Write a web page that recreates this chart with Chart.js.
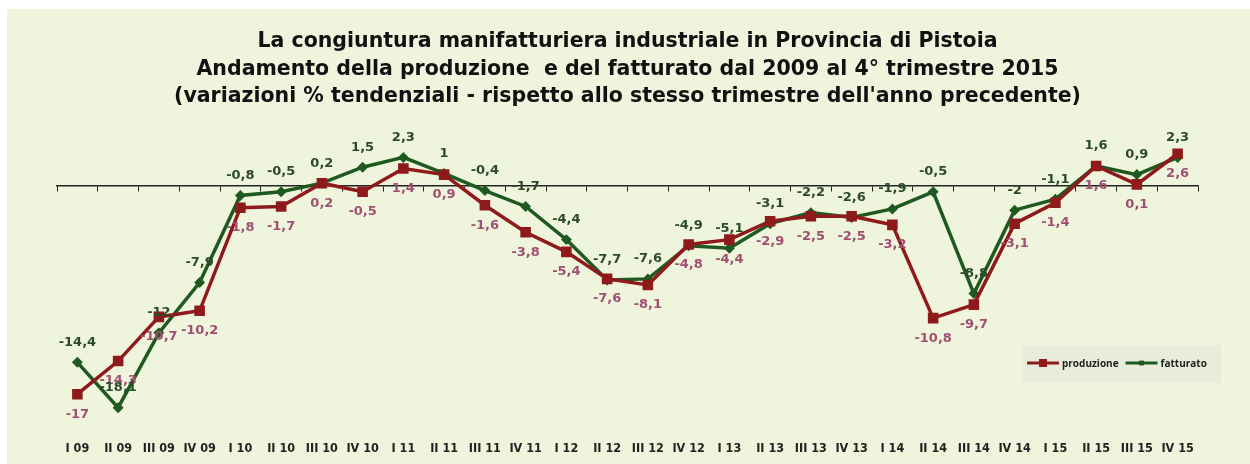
<!DOCTYPE html>
<html lang="it">
<head>
  <meta charset="UTF-8">
  <title>Congiuntura manifatturiera Pistoia</title>
  <script src="https://cdn.jsdelivr.net/npm/chart.js"></script>
  <style>
    html, body { margin: 0; padding: 0; background: #fff; }
    #box {
      position: absolute; left: 7px; top: 9px;
      width: 1243px; height: 455px;
      background: #eff5dc;
    }
  </style>
</head>
<body>
  <div id="box">
    <canvas id="trendChart"></canvas>
  </div>

  <script>
    // trimestri 2009 - 2015
    const quarters = [
      'I 09', 'II 09', 'III 09', 'IV 09',
      'I 10', 'II 10', 'III 10', 'IV 10',
      'I 11', 'II 11', 'III 11', 'IV 11',
      'I 12', 'II 12', 'III 12', 'IV 12',
      'I 13', 'II 13', 'III 13', 'IV 13',
      'I 14', 'II 14', 'III 14', 'IV 14',
      'I 15', 'II 15', 'III 15', 'IV 15'
    ];

    // variazioni % tendenziali
    const produzione = [
      -17, -14.3, -10.7, -10.2,
      -1.8, -1.7, 0.2, -0.5,
      1.4, 0.9, -1.6, -3.8,
      -5.4, -7.6, -8.1, -4.8,
      -4.4, -2.9, -2.5, -2.5,
      -3.2, -10.8, -9.7, -3.1,
      -1.4, 1.6, 0.1, 2.6
    ];

    const fatturato = [
      -14.4, -18.1, -12, -7.9,
      -0.8, -0.5, 0.2, 1.5,
      2.3, 1, -0.4, -1.7,
      -4.4, -7.7, -7.6, -4.9,
      -5.1, -3.1, -2.2, -2.6,
      -1.9, -0.5, -8.8, -2.0,
      -1.1, 1.6, 0.9, 2.3
    ];

    const RED = '#8e1a1c';
    const GREEN = '#1e5a20';

    function fmt(v) {
      return Number.isInteger(v) ? String(v) : v.toFixed(1).replace('.', ',');
    }

    // etichette dei valori accanto ai punti
    const valueLabels = {
      id: 'valueLabels',
      afterDatasetsDraw(chart) {
        const ctx = chart.ctx;
        ctx.save();
        ctx.font = 'bold 13px "DejaVu Sans"';
        ctx.textAlign = 'center';
        ctx.textBaseline = 'middle';
        chart.data.datasets.forEach((ds, i) => {
          const meta = chart.getDatasetMeta(i);
          ctx.fillStyle = ds.labelColor;
          meta.data.forEach((pt, j) => {
            ctx.fillText(fmt(ds.data[j]), pt.x + ds.labelDx, pt.y + ds.labelDy);
          });
        });
        ctx.restore();
      }
    };

    // legenda in basso a destra
    const boxLegend = {
      id: 'boxLegend',
      afterDraw(chart) {
        const ctx = chart.ctx;
        const x0 = 1016, y0 = 336, cy = y0 + 18;
        ctx.save();
        ctx.fillStyle = '#e8eddb';
        ctx.fillRect(x0, y0, 198, 38);
        ctx.font = 'bold 10px "Open Sans"';
        ctx.textBaseline = 'middle';
        let x = x0 + 4;
        chart.data.datasets.forEach(ds => {
          ctx.strokeStyle = ds.borderColor;
          ctx.lineWidth = 3;
          ctx.beginPath();
          ctx.moveTo(x, cy);
          ctx.lineTo(x + 32, cy);
          ctx.stroke();
          ctx.fillStyle = ds.borderColor;
          const s = ds.pointRadius * 1.6;
          ctx.fillRect(x + 16 - s / 2, cy - s / 2, s, s);
          ctx.fillStyle = '#222';
          ctx.fillText(ds.label, x + 35, cy + 1);
          x += 35 + ctx.measureText(ds.label).width + 7;
        });
        ctx.restore();
      }
    };

    new Chart(document.getElementById('trendChart').getContext('2d'), {
      type: 'line',
      data: {
        labels: quarters,
        datasets: [{
          label: 'produzione',
          data: produzione,
          borderColor: RED,
          backgroundColor: RED,
          borderWidth: 3.5,
          pointStyle: 'rect',
          pointRadius: 5,
          tension: 0,
          labelColor: '#a04f72',
          labelDx: 0,
          labelDy: 20
        }, {
          label: 'fatturato',
          data: fatturato,
          borderColor: GREEN,
          backgroundColor: GREEN,
          borderWidth: 3.5,
          pointStyle: 'rectRot',
          pointRadius: 3,
          tension: 0,
          labelColor: '#2b4a2a',
          labelDx: 0,
          labelDy: -20
        }]
      },
      options: {
        responsive: true,
        maintainAspectRatio: false,
        animation: false,
        layout: { padding: { left: 50, right: 52, top: 19.5, bottom: -2 } },
        plugins: {
          legend: { display: false },
          tooltip: { enabled: false },
          title: {
            display: true,
            text: [
              'La congiuntura manifatturiera industriale in Provincia di Pistoia',
              'Andamento della produzione  e del fatturato dal 2009 al 4° trimestre 2015',
              "(variazioni % tendenziali - rispetto allo stesso trimestre dell'anno precedente)"
            ],
            color: '#111',
            font: { family: '"DejaVu Sans"', size: 20.5, weight: 'bold', lineHeight: 1.33 },
            padding: { top: 0, bottom: 14 }
          }
        },
        scales: {
          x: {
            offset: true,
            grid: { display: false, drawTicks: false },
            border: { display: false },
            ticks: {
              color: '#222',
              padding: 10,
              maxRotation: 0,
              autoSkip: false,
              font: { family: '"Liberation Sans Narrow", "DejaVu Sans Condensed"', size: 12.5, weight: 'bold' }
            }
          },
          // asse dello zero con le tacche
          x0: {
            type: 'category',
            position: { y: 0 },
            offset: true,
            grid: { offset: true, drawOnChartArea: false, drawTicks: true, tickLength: 5, color: '#222', lineWidth: 1 },
            border: { display: true, color: '#222', width: 1.5 },
            ticks: { display: false }
          },
          y: {
            display: false,
            min: -20,
            max: 5
          }
        }
      },
      plugins: [valueLabels, boxLegend]
    });
  </script>
</body>
</html>
